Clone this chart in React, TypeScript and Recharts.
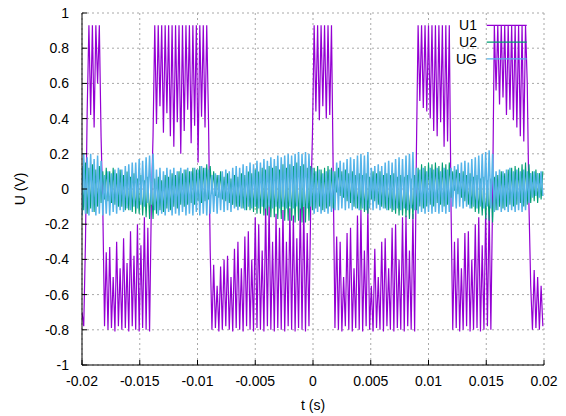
import { CartesianGrid, Line, LineChart, XAxis, YAxis } from "recharts";

// sample grid of the simulation output
const T_START = -0.02;
const T_STEP = 0.00015;

const u1Values = [
  -0.7, -0.78, -0.3, 0.45, 0.93, 0.42, 0.93, 0.35, 0.93, 0.6,
  0.93, 0.3, -0.1, -0.78, -0.36, -0.8, -0.33, -0.79, -0.5, -0.81,
  -0.3, -0.78, -0.45, -0.8, -0.28, -0.79, -0.42, -0.81, -0.24, -0.78,
  -0.38, -0.8, -0.2, -0.81, -0.32, -0.79, -0.16, -0.8, -0.22, -0.81,
  -0.1, 0.3, 0.93, 0.37, 0.93, 0.47, 0.93, 0.32, 0.93, 0.43,
  0.93, 0.3, 0.93, 0.24, 0.93, 0.38, 0.93, 0.2, 0.93, 0.33,
  0.93, 0.45, 0.93, 0.26, 0.93, 0.36, 0.93, 0.15, 0.93, 0.41,
  0.93, 0.35, 0.93, 0.4, -0.35, -0.8, -0.43, -0.79, -0.55, -0.81,
  -0.44, -0.8, -0.4, -0.78, -0.38, -0.8, -0.5, -0.81, -0.34, -0.79,
  -0.3, -0.8, -0.45, -0.81, -0.27, -0.78, -0.24, -0.8, -0.4, -0.81,
  -0.16, -0.79, -0.2, -0.8, -0.35, -0.81, -0.1, -0.78, -0.09, -0.8,
  -0.3, -0.81, -0.14, -0.79, -0.22, -0.8, -0.12, -0.81, -0.3, -0.78,
  -0.11, -0.8, -0.15, -0.81, -0.28, -0.79, -0.08, -0.8, -0.1, -0.81,
  -0.25, -0.78, -0.1, 0.3, 0.93, 0.44, 0.93, 0.39, 0.93, 0.47,
  0.93, 0.4, 0.93, 0.42, 0.93, 0.08, -0.79, -0.27, -0.8, -0.3,
  -0.81, -0.5, -0.78, -0.25, -0.8, -0.22, -0.81, -0.45, -0.79, -0.15,
  -0.8, -0.12, -0.81, -0.35, -0.78, -0.1, -0.8, -0.55, -0.81, -0.34,
  -0.79, -0.5, -0.8, -0.3, -0.81, -0.28, -0.78, -0.45, -0.8, -0.22,
  -0.81, -0.2, -0.79, -0.4, -0.8, -0.16, -0.81, -0.15, -0.78, -0.35,
  -0.8, -0.14, -0.81, 0.2, 0.93, 0.5, 0.93, 0.46, 0.93, 0.44,
  0.93, 0.4, 0.93, 0.33, 0.93, 0.3, 0.93, 0.38, 0.93, 0.24,
  0.93, 0.27, 0.93, -0.1, -0.8, -0.3, -0.79, -0.28, -0.81, -0.45,
  -0.8, -0.25, -0.78, -0.24, -0.81, -0.4, -0.8, -0.2, -0.79, -0.16,
  -0.81, -0.32, -0.8, -0.12, -0.78, -0.1, -0.8, -0.05, 0.93, 0.56,
  0.93, 0.48, 0.93, 0.52, 0.93, 0.42, 0.93, 0.45, 0.93, 0.39,
  0.93, 0.35, 0.93, 0.3, 0.93, 0.27, 0.93, 0.6, -0.1, -0.55,
  -0.8, -0.46, -0.79, -0.5, -0.8, -0.55, -0.78,
];

const u2Values = [
  0.13, -0.12, 0.15, -0.14, 0.12, -0.11, 0.14, -0.13, 0.11, -0.1,
  0.13, -0.08, 0.1, -0.06, 0.12, -0.07, 0.1, -0.08, 0.12, -0.09,
  0.09, -0.1, 0.11, -0.1, 0.08, -0.12, 0.1, -0.12, 0.07, -0.13,
  0.09, -0.14, 0.06, -0.14, 0.08, -0.15, 0.05, -0.16, 0.07, -0.17,
  0.04, -0.17, 0.06, -0.14, 0.07, -0.12, 0.05, -0.13, 0.08, -0.11,
  0.07, -0.12, 0.09, -0.1, 0.08, -0.11, 0.1, -0.09, 0.09, -0.1,
  0.11, -0.09, 0.1, -0.08, 0.12, -0.09, 0.11, -0.07, 0.13, -0.08,
  0.12, -0.07, 0.14, -0.06, 0.13, -0.03, 0.1, -0.04, 0.08, -0.05,
  0.1, -0.06, 0.07, -0.07, 0.09, -0.08, 0.06, -0.09, 0.08, -0.1,
  0.07, -0.1, 0.09, -0.11, 0.08, -0.12, 0.1, -0.12, 0.09, -0.13,
  0.11, -0.14, 0.1, -0.14, 0.12, -0.15, 0.11, -0.15, 0.13, -0.16,
  0.12, -0.16, 0.13, -0.17, 0.11, -0.17, 0.14, -0.18, 0.12, -0.18,
  0.14, -0.18, 0.13, -0.19, 0.15, -0.18, 0.13, -0.19, 0.14, -0.19,
  0.12, -0.18, 0.13, -0.12, 0.12, -0.11, 0.13, -0.1, 0.11, -0.12,
  0.12, -0.11, 0.13, -0.1, 0.12, -0.11, 0.1, -0.02, 0.12, -0.04,
  0.1, -0.05, 0.11, -0.07, 0.09, -0.08, 0.1, -0.1, 0.08, -0.11,
  0.09, -0.12, 0.08, -0.13, 0.09, -0.14, 0.07, -0.06, 0.1, -0.07,
  0.09, -0.09, 0.1, -0.1, 0.08, -0.11, 0.09, -0.12, 0.08, -0.13,
  0.09, -0.14, 0.07, -0.15, 0.08, -0.15, 0.07, -0.16, 0.08, -0.17,
  0.06, -0.17, 0.08, -0.12, 0.12, -0.1, 0.14, -0.11, 0.13, -0.1,
  0.15, -0.09, 0.14, -0.1, 0.15, -0.08, 0.13, -0.09, 0.15, -0.1,
  0.14, -0.09, 0.15, -0.05, 0.1, -0.01, 0.11, -0.03, 0.09, -0.05,
  0.1, -0.07, 0.08, -0.09, 0.09, -0.11, 0.07, -0.13, 0.08, -0.14,
  0.06, -0.15, 0.07, -0.17, 0.05, -0.18, 0.06, -0.19, 0.07, -0.12,
  0.08, -0.1, 0.1, -0.11, 0.09, -0.1, 0.11, -0.09, 0.12, -0.1,
  0.13, -0.09, 0.12, -0.08, 0.14, -0.1, 0.15, -0.09, 0.14, -0.08,
  0.1, -0.07, 0.11, -0.08, 0.09, -0.06, 0.1,
];

const ugValues = [
  -0.15, 0.2, -0.14, 0.18, -0.15, 0.2, -0.13, 0.17, -0.15, 0.19,
  -0.14, 0.16, -0.15, 0.08, -0.14, 0.1, -0.15, 0.09, -0.13, 0.11,
  -0.14, 0.12, -0.12, 0.11, -0.13, 0.13, -0.11, 0.14, -0.12, 0.15,
  -0.1, 0.15, -0.11, 0.17, -0.09, 0.16, -0.1, 0.18, -0.08, 0.19,
  -0.09, 0.2, -0.12, 0.11, -0.15, 0.12, -0.14, 0.1, -0.15, 0.12,
  -0.13, 0.11, -0.15, 0.12, -0.14, 0.1, -0.15, 0.12, -0.13, 0.11,
  -0.15, 0.12, -0.14, 0.1, -0.15, 0.12, -0.13, 0.11, -0.15, 0.13,
  -0.14, 0.12, -0.15, 0.11, -0.14, 0.08, -0.13, 0.09, -0.14, 0.08,
  -0.12, 0.1, -0.13, 0.11, -0.12, 0.1, -0.13, 0.12, -0.11, 0.13,
  -0.12, 0.12, -0.11, 0.14, -0.12, 0.13, -0.1, 0.15, -0.11, 0.14,
  -0.1, 0.16, -0.11, 0.15, -0.1, 0.17, -0.11, 0.16, -0.1, 0.18,
  -0.11, 0.17, -0.1, 0.19, -0.11, 0.18, -0.1, 0.19, -0.11, 0.2,
  -0.1, 0.19, -0.11, 0.2, -0.1, 0.21, -0.11, 0.2, -0.1, 0.21,
  -0.11, 0.2, -0.1, 0.12, -0.14, 0.1, -0.13, 0.11, -0.14, 0.09,
  -0.13, 0.1, -0.14, 0.11, -0.13, 0.1, -0.12, 0.15, -0.12, 0.16,
  -0.11, 0.15, -0.12, 0.17, -0.11, 0.18, -0.12, 0.17, -0.11, 0.19,
  -0.12, 0.2, -0.11, 0.19, -0.12, 0.21, -0.11, 0.12, -0.12, 0.13,
  -0.11, 0.14, -0.12, 0.13, -0.11, 0.15, -0.12, 0.16, -0.11, 0.15,
  -0.12, 0.17, -0.11, 0.18, -0.12, 0.17, -0.11, 0.19, -0.12, 0.2,
  -0.11, 0.21, -0.12, 0.12, -0.14, 0.11, -0.13, 0.12, -0.14, 0.1,
  -0.13, 0.12, -0.14, 0.11, -0.13, 0.12, -0.14, 0.1, -0.13, 0.12,
  -0.14, 0.11, -0.13, 0.12, -0.1, 0.13, -0.11, 0.14, -0.1, 0.15,
  -0.11, 0.16, -0.1, 0.15, -0.11, 0.17, -0.1, 0.18, -0.11, 0.19,
  -0.1, 0.2, -0.11, 0.21, -0.1, 0.22, -0.11, 0.2, -0.13, 0.1,
  -0.12, 0.11, -0.13, 0.1, -0.12, 0.11, -0.13, 0.12, -0.12, 0.1,
  -0.13, 0.11, -0.12, 0.1, -0.13, 0.11, -0.12, 0.1, -0.08, 0.09,
  -0.05, 0.1, -0.04, 0.09, -0.05, 0.1, -0.04,
];

const xTicks = [-0.02, -0.015, -0.01, -0.005, 0, 0.005, 0.01, 0.015, 0.02];
const yTicks = [-1, -0.8, -0.6, -0.4, -0.2, 0, 0.2, 0.4, 0.6, 0.8, 1];

const series = [
  { key: "u1", name: "U1", color: "#9400d3", width: 1.2 },
  { key: "u2", name: "U2", color: "#009e73", width: 1.1 },
  { key: "ug", name: "UG", color: "#56b4e9", width: 1.5 },
];

const data = u1Values.map((v, i) => ({
  t: T_START + i * T_STEP,
  u1: v,
  u2: u2Values[i],
  ug: ugValues[i],
}));

const FONT = '"Liberation Sans", Arial, Helvetica, sans-serif';
const tickStyle = { fill: "#000", fontSize: 14 };

function KeyBox() {
  return (
    <svg width={100} height={60} style={{ position: "absolute", left: 448, top: 13 }}>
      {series.map((s, i) => (
        <g key={s.key}>
          <text x={29} y={12.3 + i * 16.8} dy="0.35em" textAnchor="end" fontSize={14} fill="#000">
            {s.name}
          </text>
          <line x1={38.7} x2={78.7} y1={12.3 + i * 16.8} y2={12.3 + i * 16.8} stroke={s.color} strokeWidth={1.2} />
        </g>
      ))}
    </svg>
  );
}

export default function App() {
  return (
    <div style={{ position: "relative", width: 566, height: 416, marginTop: -8, marginLeft: -8, fontFamily: FONT }}>
      <LineChart width={566} height={416} data={data} margin={{ top: 13, right: 22, bottom: 0, left: 0 }}>
        <CartesianGrid stroke="#a8a8a8" strokeDasharray="2 3" />
        <XAxis
          dataKey="t"
          type="number"
          domain={[-0.02, 0.02]}
          ticks={xTicks}
          interval={0}
          allowDataOverflow
          height={51}
          stroke="#000"
          tickSize={-5}
          tickMargin={16}
          tick={tickStyle}
          label={{ value: "t (s)", position: "insideBottom", offset: 6, fill: "#000", fontSize: 14 }}
        />
        <XAxis
          xAxisId="top"
          orientation="top"
          type="number"
          domain={[-0.02, 0.02]}
          ticks={xTicks}
          interval={0}
          allowDataOverflow
          height={0}
          stroke="#000"
          tickSize={-5}
          tick={false}
        />
        <YAxis
          type="number"
          domain={[-1, 1]}
          ticks={yTicks}
          interval={0}
          allowDataOverflow
          width={82}
          stroke="#000"
          tickSize={-5}
          tickMargin={18}
          tick={tickStyle}
          label={{
            value: "U (V)",
            angle: -90,
            position: "insideLeft",
            offset: 20,
            fill: "#000",
            fontSize: 14,
            style: { textAnchor: "middle" },
          }}
        />
        <YAxis
          yAxisId="right"
          orientation="right"
          type="number"
          domain={[-1, 1]}
          ticks={yTicks}
          interval={0}
          allowDataOverflow
          width={0}
          stroke="#000"
          tickSize={-5}
          tick={false}
        />
        {series.map((s) => (
          <Line
            key={s.key}
            type="linear"
            dataKey={s.key}
            name={s.name}
            stroke={s.color}
            strokeWidth={s.width}
            dot={false}
            activeDot={false}
            isAnimationActive={false}
          />
        ))}
      </LineChart>
      <KeyBox />
    </div>
  );
}
